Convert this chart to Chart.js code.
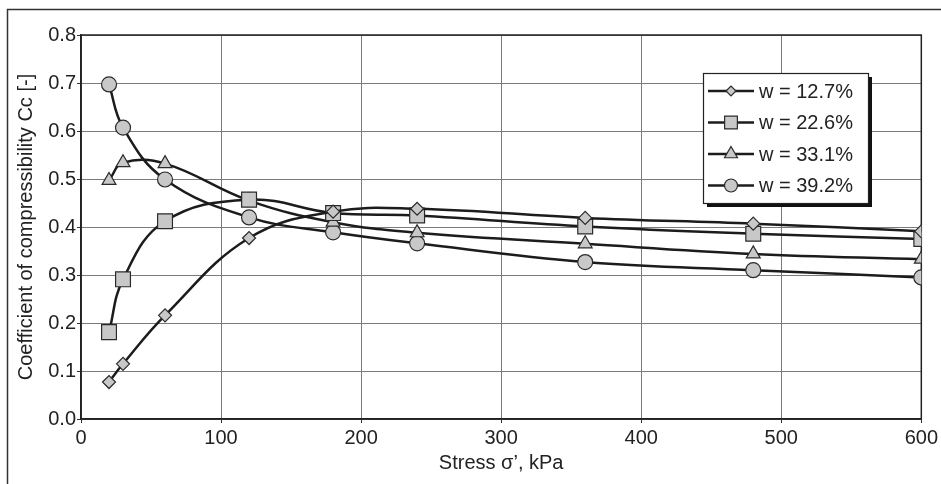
<!DOCTYPE html>
<html>
<head>
<meta charset="utf-8">
<script src="https://cdn.jsdelivr.net/npm/chart.js@4.4.0/dist/chart.umd.min.js"></script>
<style>
  html, body { margin: 0; padding: 0; background: #ffffff; }
  #wrap { width: 941px; height: 484px; position: relative; }
</style>
</head>
<body>
<div id="wrap"><canvas id="c" width="941" height="484"></canvas></div>
<script>
// ---- data ----
const stressKPa = [20, 30, 60, 120, 180, 240, 360, 480, 600];
const seriesLabels = ['w = 12.7%', 'w = 22.6%', 'w = 33.1%', 'w = 39.2%'];
const cc_w127 = [0.077, 0.115, 0.216, 0.377, 0.432, 0.438, 0.419, 0.407, 0.391];
const cc_w226 = [0.181, 0.291, 0.412, 0.457, 0.429, 0.424, 0.401, 0.386, 0.375];
const cc_w331 = [0.497, 0.534, 0.532, 0.455, 0.410, 0.388, 0.365, 0.344, 0.333];
const cc_w392 = [0.697, 0.607, 0.499, 0.420, 0.389, 0.366, 0.327, 0.310, 0.295];
const xTicks = [0, 100, 200, 300, 400, 500, 600];
const yTicks = [0.0, 0.1, 0.2, 0.3, 0.4, 0.5, 0.6, 0.7, 0.8];

const FONT = '"Liberation Sans", Arial, Helvetica, sans-serif';
const TEXT = '#222222';
const LINE = '#1c1c1c';
const MFILL = '#c8c8c8';
const MEDGE = '#2a2a2a';

const styles = [
  { pointStyle: 'rectRot', radius: 6.5, legendRadius: 5 },
  { pointStyle: 'rect', radius: 10.5, legendRadius: 9 },
  { pointStyle: 'triangle', radius: 8, legendRadius: 7.5 },
  { pointStyle: 'circle', radius: 7.5, legendRadius: 6.5 }
];
const values = [cc_w127, cc_w226, cc_w331, cc_w392];

const datasets = values.map((arr, i) => ({
  label: seriesLabels[i],
  data: stressKPa.map((x, j) => ({ x: x, y: arr[j] })),
  borderColor: LINE,
  borderWidth: 2.5,
  backgroundColor: MFILL,
  pointBackgroundColor: MFILL,
  pointBorderColor: MEDGE,
  pointBorderWidth: 1.2,
  pointStyle: styles[i].pointStyle,
  pointRadius: styles[i].radius,
  pointHoverRadius: styles[i].radius,
  tension: 0.4,
  fill: false
}));

function drawMarker(ctx, style, r, x, y) {
  ctx.save();
  ctx.fillStyle = MFILL;
  ctx.strokeStyle = MEDGE;
  ctx.lineWidth = 1.2;
  if (Chart.helpers && Chart.helpers.drawPoint) {
    Chart.helpers.drawPoint(ctx, { pointStyle: style, radius: r, borderWidth: 1.2, rotation: 0 }, x, y);
  } else {
    ctx.beginPath();
    ctx.arc(x, y, r, 0, Math.PI * 2);
    ctx.fill(); ctx.stroke();
  }
  ctx.restore();
}

const framePlugin = {
  id: 'frame',
  beforeDraw(chart) {
    const ctx = chart.ctx;
    ctx.save();
    ctx.fillStyle = '#ffffff';
    ctx.fillRect(0, 0, chart.width, chart.height);
    ctx.strokeStyle = '#333333';
    ctx.lineWidth = 1.5;
    ctx.beginPath();
    ctx.moveTo(7.5, chart.height + 2);
    ctx.lineTo(7.5, 9.5);
    ctx.lineTo(chart.width + 2, 9.5);
    ctx.stroke();
    ctx.restore();
  },
  beforeDatasetsDraw(chart) {
    const a = chart.chartArea;
    const ctx = chart.ctx;
    ctx.save();
    ctx.strokeStyle = '#222222';
    ctx.lineWidth = 1.5;
    ctx.strokeRect(a.left, a.top, a.right - a.left, a.bottom - a.top);
    ctx.restore();
  }
};

const legendPlugin = {
  id: 'boxLegend',
  afterDraw(chart) {
    const ctx = chart.ctx;
    const bx = 703, by = 73, bw = 165, bh = 130;
    ctx.save();
    ctx.fillStyle = '#111111';
    ctx.fillRect(bx + 4, by + 4, bw, bh);
    ctx.fillStyle = '#ffffff';
    ctx.fillRect(bx, by, bw, bh);
    ctx.strokeStyle = '#222222';
    ctx.lineWidth = 1.2;
    ctx.strokeRect(bx + 0.5, by + 0.5, bw, bh);
    const rowY = [91, 122.5, 154, 185.5];
    chart.data.datasets.forEach((ds, i) => {
      const y = rowY[i];
      ctx.strokeStyle = LINE;
      ctx.lineWidth = 2.5;
      ctx.beginPath();
      ctx.moveTo(708, y);
      ctx.lineTo(754, y);
      ctx.stroke();
      drawMarker(ctx, styles[i].pointStyle, styles[i].legendRadius, 731, y);
      ctx.fillStyle = TEXT;
      ctx.font = '20px ' + FONT;
      ctx.textAlign = 'left';
      ctx.textBaseline = 'middle';
      ctx.fillText(ds.label, 759, y + 1);
    });
    ctx.restore();
  }
};

new Chart(document.getElementById('c'), {
  type: 'line',
  data: { datasets: datasets },
  plugins: [framePlugin, legendPlugin],
  options: {
    responsive: false,
    animation: false,
    events: [],
    layout: { padding: { top: 35, right: 18, left: 0, bottom: 0 } },
    plugins: { legend: { display: false }, tooltip: { enabled: false }, title: { display: false } },
    scales: {
      x: {
        type: 'linear',
        min: 0, max: 600,
        afterBuildTicks(scale) { scale.ticks = xTicks.map(v => ({ value: v })); },
        afterFit(scale) { scale.height = 65; },
        grid: { color: '#7a7a7a', lineWidth: 1, tickLength: 4, tickColor: '#333' },
        border: { color: '#222', width: 1.5 },
        ticks: { color: TEXT, font: { family: FONT, size: 20 }, padding: 3, maxRotation: 0,
                 callback: v => String(v) },
        title: { display: true, text: 'Stress σ\u2019, kPa', color: TEXT,
                 font: { family: FONT, size: 20, lineHeight: 1.2 }, padding: { top: 0, bottom: 9 } }
      },
      y: {
        type: 'linear',
        min: 0, max: 0.8,
        afterBuildTicks(scale) { scale.ticks = yTicks.map(v => ({ value: v })); },
        afterFit(scale) { scale.width = 81; },
        grid: { color: '#7a7a7a', lineWidth: 1, tickLength: 4, tickColor: '#333' },
        border: { color: '#222', width: 1.5 },
        ticks: { color: TEXT, font: { family: FONT, size: 20 }, padding: 1,
                 callback: v => Number(v).toFixed(1) },
        title: { display: true, text: 'Coefficient of compressibility Cc [-]', color: TEXT,
                 font: { family: FONT, size: 20, lineHeight: 1.2 }, padding: { top: 14, bottom: 0 } }
      }
    }
  }
});
</script>
</body>
</html>
